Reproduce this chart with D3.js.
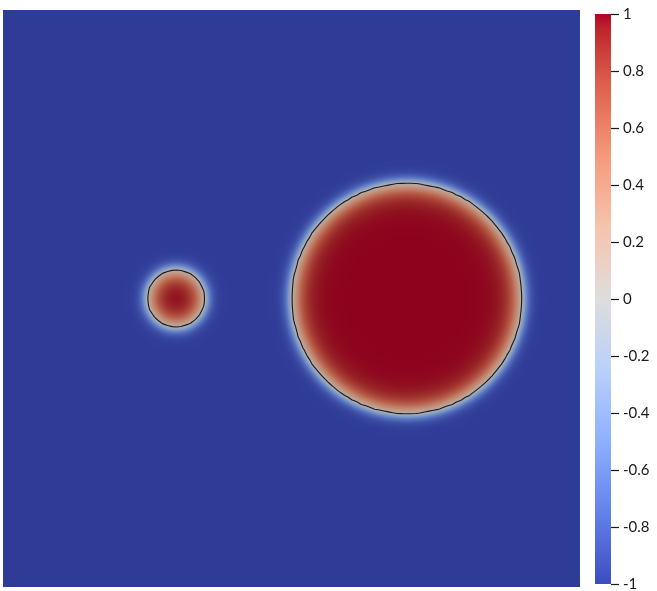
<!DOCTYPE html>
<html>
<head>
<meta charset="utf-8">
<script src="https://cdn.jsdelivr.net/npm/d3@7"></script>
<style>
  html, body { margin: 0; padding: 0; background: #ffffff; }
  #wrap { position: relative; width: 657px; height: 591px; }
  canvas, svg { position: absolute; left: 0; top: 0; }
</style>
</head>
<body>
<div id="wrap">
  <canvas id="field" width="657" height="591"></canvas>
  <svg id="chart" width="657" height="591"></svg>
</div>
<script>
// ---- data ----
const circleX = [0.30, 0.70];        // circle centres, x (domain units)
const circleY = [0.50, 0.50];        // circle centres, y
const circleR = [0.050, 0.200];      // circle radii
const epsInside = 0.022;             // interface width inside
const epsOutside = 0.0125;           // interface width outside
const gridN = 128;                   // mesh resolution
const cmapStops = [-1, -0.75, -0.5, -0.25, 0, 0.25, 0.5, 0.75, 1];
const cmapColors = ["#3b4cc0", "#6282ea", "#8db0fe", "#b8d0f9", "#dddddd",
                    "#f5c4ad", "#f49a7b", "#de604d", "#b40426"];
const tickValues = [1, 0.8, 0.6, 0.4, 0.2, 0, -0.2, -0.4, -0.6, -0.8, -1];
const shade = 0.785;                 // lighting factor of the rendered surface

// ---- scales ----
const x = d3.scaleLinear().domain([0, 1]).range([3, 580]);
const y = d3.scaleLinear().domain([1, 0]).range([10, 587]);
const color = d3.scaleLinear().domain(cmapStops).range(cmapColors)
  .interpolate(d3.interpolateLab).clamp(true);
const cbY = d3.scaleLinear().domain([-1, 1]).range([584, 14]);

function phi(px, py) {
  let v = -1;
  for (let i = 0; i < circleX.length; i++) {
    const d = circleR[i] - Math.hypot(px - circleX[i], py - circleY[i]);
    const p = Math.tanh(d / (d > 0 ? epsInside : epsOutside));
    if (p > v) v = p;
  }
  return v;
}

// ---- field image ----
const canvas = document.getElementById("field");
const ctx = canvas.getContext("2d");
const x0 = Math.round(x(0)), x1 = Math.round(x(1));
const y0 = Math.round(y(1)), y1 = Math.round(y(0));
const W = x1 - x0, H = y1 - y0;
const img = ctx.createImageData(W, H);
for (let j = 0; j < H; j++) {
  for (let i = 0; i < W; i++) {
    const v = phi(x.invert(x0 + i + 0.5), y.invert(y0 + j + 0.5));
    const c = d3.rgb(color(v));
    const k = (j * W + i) * 4;
    img.data[k] = c.r * shade;
    img.data[k + 1] = c.g * shade;
    img.data[k + 2] = c.b * shade;
    img.data[k + 3] = 255;
  }
}
ctx.putImageData(img, x0, y0);

// ---- contour at 0 ----
const svg = d3.select("#chart");
const values = new Array(gridN * gridN);
for (let j = 0; j < gridN; j++) {
  for (let i = 0; i < gridN; i++) {
    values[j * gridN + i] = phi((i + 0.5) / gridN, 1 - (j + 0.5) / gridN);
  }
}
const contour = d3.contours().size([gridN, gridN]).thresholds([0])(values)[0];
const gx = d3.scaleLinear().domain([0, gridN]).range([x(0), x(1)]);
const gy = d3.scaleLinear().domain([0, gridN]).range([y(1), y(0)]);
const proj = d3.geoTransform({
  point: function (px, py) { this.stream.point(gx(px), gy(py)); }
});
svg.append("path")
  .attr("d", d3.geoPath(proj)(contour))
  .attr("fill", "none")
  .attr("stroke", "#1a1a1a")
  .attr("stroke-width", 1.1);

// ---- colour bar ----
const defs = svg.append("defs");
const grad = defs.append("linearGradient").attr("id", "cb")
  .attr("x1", 0).attr("y1", 1).attr("x2", 0).attr("y2", 0);
d3.range(0, 41).forEach(i => {
  const v = -1 + i / 20;
  grad.append("stop").attr("offset", (i / 40) * 100 + "%").attr("stop-color", color(v));
});
svg.append("rect")
  .attr("x", 595).attr("y", cbY(1))
  .attr("width", 16).attr("height", cbY(-1) - cbY(1))
  .attr("fill", "url(#cb)");

const axis = d3.axisRight(cbY).tickValues(tickValues).tickSize(8).tickPadding(4)
  .tickFormat(d => String(d));
const ag = svg.append("g").attr("transform", "translate(611,0)").call(axis);
ag.select(".domain").remove();
ag.selectAll(".tick line").attr("stroke", "#1a1a1a").attr("stroke-width", 1.2);
ag.selectAll(".tick text")
  .attr("fill", "#1a1a1a")
  .style("font-family", "Lato, 'DejaVu Sans', sans-serif")
  .style("font-size", "15px");
</script>
</body>
</html>
